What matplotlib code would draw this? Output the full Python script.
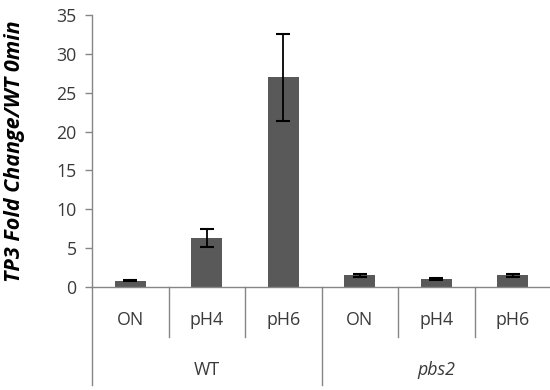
import matplotlib
matplotlib.use("Agg")
import matplotlib.pyplot as plt
import matplotlib.transforms as mtransforms

categories = ["ON", "pH4", "pH6", "ON", "pH4", "pH6"]
groups = ["WT", "pbs2"]
values = [0.8, 6.3, 27.0, 1.5, 1.0, 1.5]
errors = [0.05, 1.2, 5.6, 0.15, 0.15, 0.15]
yticks = [0, 5, 10, 15, 20, 25, 30, 35]
ylabel = "TP3 Fold Change/WT 0min"

W, H = 550, 390
fig = plt.figure(figsize=(W / 100, H / 100), dpi=100)
left, right, top, bottom = 92, 551, 15, 287
ax = fig.add_axes([left / W, 1 - bottom / H, (right - left) / W, (bottom - top) / H])

font = "Open Sans"
gray = "#868686"
txt = "#3a3a3a"
fs = 12.8

x = list(range(len(categories)))
ax.bar(x, values, width=0.4, color="#595959", zorder=2)
ax.errorbar(x, values, yerr=errors, fmt="none", ecolor="black", elinewidth=1.3,
            capsize=4.7, capthick=1.5, zorder=3)

ax.set_xlim(-0.5, len(categories) - 0.5)
ax.set_ylim(0, 35)
ax.set_yticks(yticks)
ax.set_yticklabels([str(t) for t in yticks], fontfamily=font, fontsize=fs, color=txt)
ax.tick_params(axis="y", direction="out", length=5, color=gray, width=1, pad=6)
ax.set_xticks([])
for s in ["top", "right"]:
    ax.spines[s].set_visible(False)
for s in ["left", "bottom"]:
    ax.spines[s].set_color(gray)
    ax.spines[s].set_linewidth(1)

trans = mtransforms.blended_transform_factory(ax.transData, fig.transFigure)
y0 = 1 - bottom / H
y_short = 1 - 337 / H
y_long = 1 - 385 / H
for i in range(len(categories) + 1):
    xd = i - 0.5
    long_line = (i % 3 == 0)
    ax.plot([xd, xd], [y0, y_long if long_line else y_short], transform=trans,
            color=gray, lw=1, clip_on=False)

for i, c in enumerate(categories):
    ax.text(i, 1 - 320 / H, c, transform=trans, ha="center", va="center",
            fontfamily=font, fontsize=fs, color=txt)

for g_i, g in enumerate(groups):
    ax.text(g_i * 3 + 1, 1 - 370 / H, g, transform=trans, ha="center", va="center",
            fontfamily=font, fontsize=fs, color=txt,
            fontstyle="italic" if g == "pbs2" else "normal")

fig.text(15 / W, 1 - 151 / H, ylabel, rotation=90,
         ha="center", va="center", fontfamily=font, fontsize=15.5,
         fontweight="bold", fontstyle="italic", color="black")

fig.savefig("out.png", dpi=100)
